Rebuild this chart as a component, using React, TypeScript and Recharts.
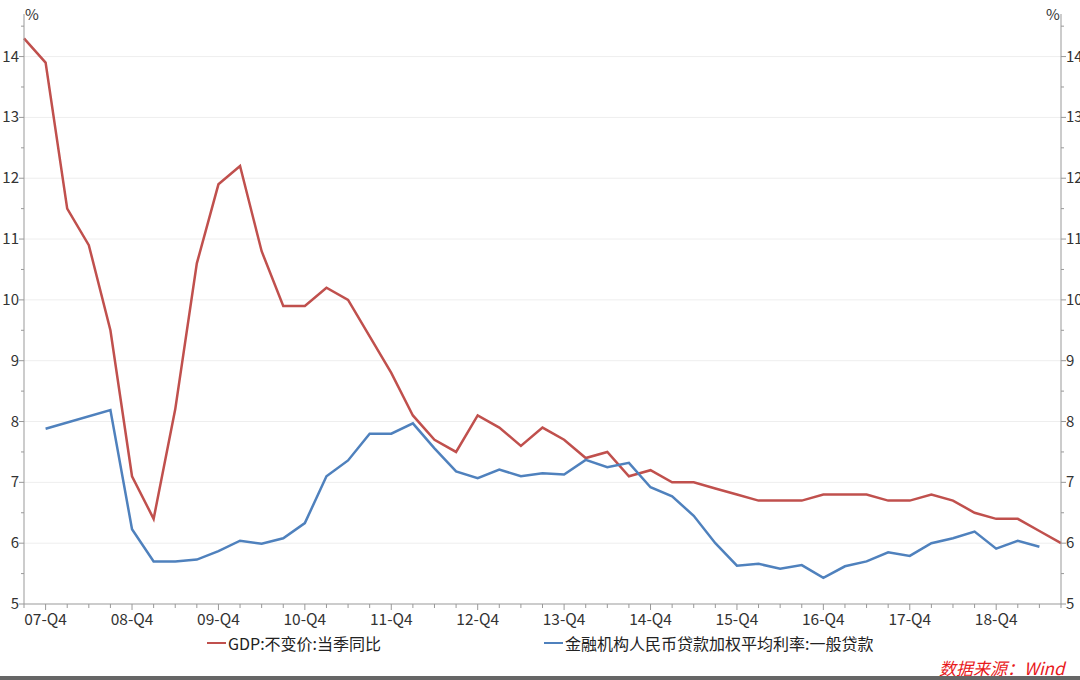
import { LineChart, Line, XAxis, YAxis, ReferenceLine } from "recharts"

const quarters = [
  "07-Q3", "07-Q4",
  "08-Q1", "08-Q2", "08-Q3", "08-Q4",
  "09-Q1", "09-Q2", "09-Q3", "09-Q4",
  "10-Q1", "10-Q2", "10-Q3", "10-Q4",
  "11-Q1", "11-Q2", "11-Q3", "11-Q4",
  "12-Q1", "12-Q2", "12-Q3", "12-Q4",
  "13-Q1", "13-Q2", "13-Q3", "13-Q4",
  "14-Q1", "14-Q2", "14-Q3", "14-Q4",
  "15-Q1", "15-Q2", "15-Q3", "15-Q4",
  "16-Q1", "16-Q2", "16-Q3", "16-Q4",
  "17-Q1", "17-Q2", "17-Q3", "17-Q4",
  "18-Q1", "18-Q2", "18-Q3", "18-Q4",
  "19-Q1", "19-Q2", "19-Q3",
]

const gdp = [
  14.3, 13.9,
  11.5, 10.9, 9.5, 7.1,
  6.4, 8.2, 10.6, 11.9,
  12.2, 10.8, 9.9, 9.9,
  10.2, 10.0, 9.4, 8.8,
  8.1, 7.7, 7.5, 8.1,
  7.9, 7.6, 7.9, 7.7,
  7.4, 7.5, 7.1, 7.2,
  7.0, 7.0, 6.9, 6.8,
  6.7, 6.7, 6.7, 6.8,
  6.8, 6.8, 6.7, 6.7,
  6.8, 6.7, 6.5, 6.4,
  6.4, 6.2, 6.0,
]

const loanRate = [
  null, 7.88,
  null, null, 8.19, 6.23,
  5.70, 5.70, 5.73, 5.87,
  6.04, 5.99, 6.08, 6.33,
  7.10, 7.36, 7.80, 7.80,
  7.97, 7.56, 7.18, 7.07,
  7.21, 7.10, 7.15, 7.13,
  7.37, 7.25, 7.32, 6.92,
  6.77, 6.45, 6.00, 5.63,
  5.66, 5.58, 5.64, 5.43,
  5.62, 5.70, 5.85, 5.79,
  6.00, 6.08, 6.19, 5.91,
  6.04, 5.94, null,
]

const yTicks = [5, 5.5, 6, 6.5, 7, 7.5, 8, 8.5, 9, 9.5, 10, 10.5, 11, 11.5, 12, 12.5, 13, 13.5, 14, 14.5]
const gridValues = [6, 7, 8, 9, 10, 11, 12, 13, 14]

const seriesNames = ["GDP:不变价:当季同比", "金融机构人民币贷款加权平均利率:一般贷款"]
const RED = "#C0504D"
const BLUE = "#4F81BD"
const FONT = "'Noto Sans CJK SC', 'Noto Sans', sans-serif"

const data = quarters.map((q, i) => ({ q, gdp: gdp[i], loan: loanRate[i] }))

function XTick(props: any) {
  const { x, y, payload } = props
  const major = String(payload.value).endsWith("Q4")
  return (
    <g>
      <line x1={x} x2={x} y1={y - 8} y2={y - 8 + (major ? 6 : 4)} stroke="#999" />
      {major && (
        <text x={x} y={y + 13} textAnchor="middle" fontSize={15.5} fill="#333" fontFamily={FONT}>
          {payload.value}
        </text>
      )}
    </g>
  )
}

function YTick(props: any) {
  const { x, y, payload, side } = props
  const major = Number.isInteger(payload.value)
  const dir = side === "left" ? -1 : 1
  const ax = x - dir * 8
  return (
    <g>
      <line x1={ax} x2={ax + dir * (major ? 5 : 3)} y1={y} y2={y} stroke="#999" />
      {major && (
        <text
          x={ax + dir * 5}
          y={y + 5}
          textAnchor={side === "left" ? "end" : "start"}
          fontSize={15}
          fill="#333"
          fontFamily={FONT}
        >
          {payload.value}
        </text>
      )}
    </g>
  )
}

export default function App() {
  return (
    <div style={{ position: "absolute", left: 0, top: 0, width: 1080, height: 680, background: "#fff", fontFamily: FONT }}>
      <LineChart width={1080} height={630} data={data} margin={{ top: 14, right: 0, bottom: 0, left: 0 }}>
        <XAxis
          dataKey="q"
          interval={0}
          height={26}
          axisLine={{ stroke: "#999" }}
          tickLine={false}
          tick={<XTick />}
          padding={{ left: 0, right: 0 }}
        />
        <YAxis
          yAxisId="left"
          orientation="left"
          width={24}
          domain={[5, 14.7]}
          ticks={yTicks}
          interval={0}
          axisLine={{ stroke: "#999" }}
          tickLine={false}
          tick={<YTick side="left" />}
          allowDataOverflow
        />
        <YAxis
          yAxisId="right"
          orientation="right"
          width={19}
          domain={[5, 14.7]}
          ticks={yTicks}
          interval={0}
          axisLine={{ stroke: "#999" }}
          tickLine={false}
          tick={<YTick side="right" />}
          allowDataOverflow
        />
        {gridValues.map((v) => (
          <ReferenceLine key={v} yAxisId="left" y={v} stroke="#eeeeee" strokeWidth={1} />
        ))}
        <Line
          yAxisId="left"
          type="linear"
          dataKey="gdp"
          stroke={RED}
          strokeWidth={2.5}
          dot={false}
          isAnimationActive={false}
        />
        <Line
          yAxisId="left"
          type="linear"
          dataKey="loan"
          stroke={BLUE}
          strokeWidth={2.5}
          dot={false}
          connectNulls
          isAnimationActive={false}
        />
      </LineChart>

      <div style={{ position: "absolute", left: 25, top: 3, fontSize: 15, color: "#333" }}>%</div>
      <div style={{ position: "absolute", left: 1046, top: 3, fontSize: 15, color: "#333" }}>%</div>

      <div style={{ position: "absolute", left: 207, top: 631, display: "flex", alignItems: "center", fontSize: 16, color: "#222" }}>
        <span style={{ display: "inline-block", width: 19, height: 2, background: RED, marginRight: 2 }} />
        {seriesNames[0]}
      </div>
      <div style={{ position: "absolute", left: 544, top: 631, display: "flex", alignItems: "center", fontSize: 16, color: "#222" }}>
        <span style={{ display: "inline-block", width: 19, height: 2, background: BLUE, marginRight: 2 }} />
        {seriesNames[1]}
      </div>

      <div style={{ position: "absolute", left: 939, top: 655, fontSize: 17, color: "#E8191C", fontStyle: "italic" }}>
        数据来源：Wind
      </div>
      <div style={{ position: "absolute", left: 0, top: 676, width: 1080, height: 4, background: "#666" }} />
    </div>
  )
}
